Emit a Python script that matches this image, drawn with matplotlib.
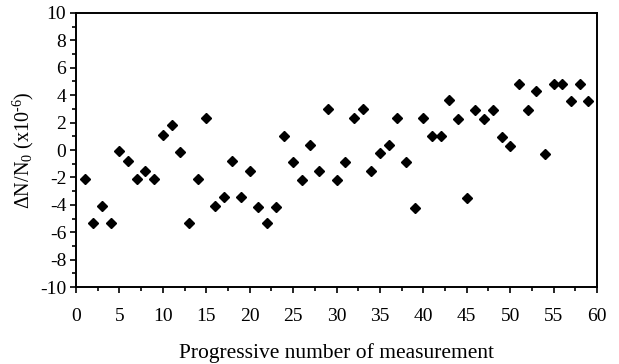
# scatter of relative change dN/N0 vs measurement number
import matplotlib.pyplot as plt
from matplotlib.ticker import MultipleLocator

plt.rcParams['font.family'] = ['Liberation Serif', 'DejaVu Serif']
plt.rcParams['mathtext.fontset'] = 'custom'
plt.rcParams['mathtext.rm'] = 'Liberation Serif'
plt.rcParams['mathtext.it'] = 'Liberation Serif:italic'
plt.rcParams['axes.unicode_minus'] = False

# measurement index
meas = list(range(1, 60))

# dN/N0 in units of 1e-6
dN = [-2.15, -5.3, -4.1, -5.3, -0.1, -0.8, -2.15, -1.5, -2.15, 1.1,
      1.8, -0.15, -5.3, -2.15, 2.35, -4.1, -3.45, -0.8, -3.45, -1.5,
      -4.15, -5.35, -4.15, 1.05, -0.85, -2.2, 0.35, -1.5, 3.0, -2.2,
      -0.9, 2.3, 3.0, -1.55, -0.2, 0.35, 2.3, -0.9, -4.2, 2.3,
      1.0, 1.0, 3.65, 2.25, -3.5, 2.95, 2.25, 2.95, 0.95, 0.3,
      4.85, 2.9, 4.3, -0.3, 4.85, 4.85, 3.6, 4.85, 3.6]

fig = plt.figure(figsize=(6.19, 3.64), dpi=100)
ax = fig.add_axes([0.1228, 0.2115, 0.8417, 0.7528])

ax.plot(meas, dN, linestyle='none', marker='D', markersize=5.5, color='black')

ax.set_xlim(0, 60)
ax.set_ylim(-10, 10)
ax.xaxis.set_major_locator(MultipleLocator(5))
ax.xaxis.set_minor_locator(MultipleLocator(2.5))
ax.yaxis.set_major_locator(MultipleLocator(2))
ax.yaxis.set_minor_locator(MultipleLocator(1))
ax.tick_params(which='both', direction='out', labelsize=14, width=1.2)
ax.tick_params(which='major', length=4)
ax.tick_params(which='minor', length=3)
ax.tick_params(axis='x', pad=11)
ax.tick_params(axis='y', pad=3)
for s in ax.spines.values():
    s.set_linewidth(1.4)

ax.set_xlabel('Progressive number of measurement', fontsize=15.5, labelpad=13)
ax.set_ylabel(r'ΔN/N$_0$ (x10$^{\text{-6}}$)', fontsize=14.5, labelpad=3)

fig.savefig('out.png', dpi=100)
